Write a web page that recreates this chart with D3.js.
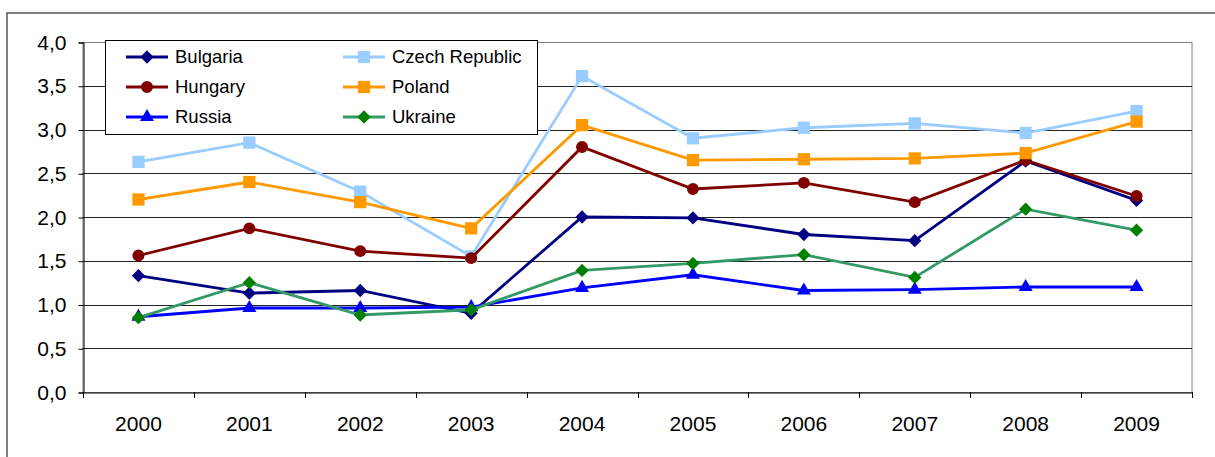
<!DOCTYPE html>
<html>
<head>
<meta charset="utf-8">
<script src="https://cdn.jsdelivr.net/npm/d3@7"></script>
<style>
  body { margin: 0; background: #fff; }
  text { font-family: "Liberation Sans", Arial, sans-serif; fill: #000; }
</style>
</head>
<body>
<div id="chart"></div>
<script>
var years = ["2000", "2001", "2002", "2003", "2004", "2005", "2006", "2007", "2008", "2009"];
var yTicks = [0, 0.5, 1, 1.5, 2, 2.5, 3, 3.5, 4];

var bulgaria = [1.33, 1.13, 1.16, 0.90, 2.00, 1.99, 1.80, 1.73, 2.64, 2.19];
var czech    = [2.63, 2.85, 2.29, 1.55, 3.61, 2.90, 3.02, 3.07, 2.96, 3.21];
var hungary  = [1.56, 1.87, 1.61, 1.53, 2.80, 2.32, 2.39, 2.17, 2.65, 2.24];
var poland   = [2.20, 2.40, 2.17, 1.87, 3.05, 2.65, 2.66, 2.67, 2.73, 3.09];
var russia   = [0.86, 0.96, 0.96, 0.97, 1.19, 1.34, 1.16, 1.17, 1.20, 1.20];
var ukraine  = [0.85, 1.25, 0.88, 0.94, 1.39, 1.47, 1.57, 1.31, 2.09, 1.85];

var series = [
  { name: "Bulgaria", values: bulgaria, line: "#000080", fill: "#000080", shape: "diamond" },
  { name: "Czech Republic", values: czech, line: "#99ccff", fill: "#99ccff", shape: "square" },
  { name: "Hungary", values: hungary, line: "#800000", fill: "#800000", shape: "circle" },
  { name: "Poland", values: poland, line: "#ff9900", fill: "#ff9900", shape: "square" },
  { name: "Russia", values: russia, line: "#0000ff", fill: "#0000ff", shape: "triangle" },
  { name: "Ukraine", values: ukraine, line: "#339966", fill: "#008000", shape: "diamond" }
];

var width = 1215, height = 457;
var plotLeft = 83, plotRight = 1192, plotTop = 42, plotBottom = 392;

var svg = d3.select("#chart").append("svg")
  .attr("width", width)
  .attr("height", height);

svg.append("rect").attr("width", width).attr("height", height).attr("fill", "#fff");

// outer chart frame, cut off at right and bottom
svg.append("rect")
  .attr("x", 7).attr("y", 13)
  .attr("width", width + 20).attr("height", height + 20)
  .attr("fill", "none").attr("stroke", "#555").attr("stroke-width", 1.5);

var x = d3.scaleBand().domain(years).range([plotLeft, plotRight]).padding(0);
var y = d3.scaleLinear().domain([0, 4]).range([plotBottom, plotTop]);
var cx = function(i) { return x(years[i]) + x.bandwidth() / 2; };

// plot border
svg.append("rect")
  .attr("x", plotLeft).attr("y", plotTop + 0.5)
  .attr("width", plotRight - plotLeft).attr("height", plotBottom - plotTop)
  .attr("fill", "none").attr("stroke", "#808080").attr("stroke-width", 1);

// gridlines
svg.selectAll(".grid")
  .data(yTicks.filter(function(d) { return d > 0 && d < 4; }))
  .enter().append("line")
  .attr("x1", plotLeft).attr("x2", plotRight)
  .attr("y1", function(d) { return Math.round(y(d)) + 0.5; })
  .attr("y2", function(d) { return Math.round(y(d)) + 0.5; })
  .attr("stroke", "#222").attr("stroke-width", 1);

// y axis
var yAxis = svg.append("g")
  .attr("transform", "translate(" + (plotLeft + 0.5) + ",0.5)")
  .call(d3.axisLeft(y).tickValues(yTicks).tickSize(5).tickPadding(12)
    .tickFormat(function(d) { return d3.format(".1f")(d).replace(".", ","); }));
yAxis.select(".domain").attr("stroke", "#000");
yAxis.selectAll(".tick line").attr("stroke", "#000");
yAxis.selectAll("text").attr("font-size", 21).attr("fill", "#000");

// x axis
var xAxis = svg.append("g")
  .attr("transform", "translate(0," + (plotBottom + 0.5) + ")")
  .call(d3.axisBottom(x).tickSize(0).tickPadding(24));
xAxis.select(".domain").attr("stroke", "#000");
xAxis.selectAll("text").attr("font-size", 21).attr("fill", "#000");
svg.selectAll(".xtick")
  .data(d3.range(years.length + 1))
  .enter().append("line")
  .attr("x1", function(i) { return Math.round(plotLeft + i * x.bandwidth()) + 0.5; })
  .attr("x2", function(i) { return Math.round(plotLeft + i * x.bandwidth()) + 0.5; })
  .attr("y1", plotBottom).attr("y2", plotBottom + 6)
  .attr("stroke", "#000");

function marker(shape) {
  if (shape === "square") return d3.symbol().type(d3.symbolSquare).size(150)();
  if (shape === "circle") return d3.symbol().type(d3.symbolCircle).size(113)();
  if (shape === "triangle") return d3.symbol().type(d3.symbolTriangle).size(85)();
  return d3.symbol().type(d3.symbolSquare).size(88)();
}

var line = d3.line()
  .x(function(d, i) { return cx(i); })
  .y(function(d) { return y(d); });

series.forEach(function(s) {
  var g = svg.append("g");
  g.append("path")
    .attr("d", line(s.values))
    .attr("fill", "none")
    .attr("stroke", s.line)
    .attr("stroke-width", 2.8);
  g.selectAll("path.m")
    .data(s.values)
    .enter().append("path")
    .attr("class", "m")
    .attr("d", marker(s.shape))
    .attr("fill", s.fill)
    .attr("transform", function(d, i) {
      return "translate(" + cx(i) + "," + y(d) + ")" + (s.shape === "diamond" ? " rotate(45)" : "");
    });
});

// legend
var legend = svg.append("g");
legend.append("rect")
  .attr("x", 105.5).attr("y", 40.5)
  .attr("width", 432).attr("height", 94)
  .attr("fill", "#fff").attr("stroke", "#000").attr("stroke-width", 1);

var item = legend.selectAll(".item")
  .data(series)
  .enter().append("g")
  .attr("transform", function(d, i) {
    return "translate(" + (i % 2 === 0 ? 126 : 343) + "," + (57 + Math.floor(i / 2) * 30) + ")";
  });
item.append("line")
  .attr("x1", 0).attr("x2", 42)
  .attr("stroke", function(d) { return d.line; })
  .attr("stroke-width", 2.8);
item.append("path")
  .attr("d", function(d) { return marker(d.shape); })
  .attr("fill", function(d) { return d.fill; })
  .attr("transform", function(d) { return "translate(21,0)" + (d.shape === "diamond" ? " rotate(45)" : ""); });
item.append("text")
  .attr("x", 49).attr("dy", "0.35em")
  .attr("font-size", 18.5)
  .text(function(d) { return d.name; });
</script>
</body>
</html>
